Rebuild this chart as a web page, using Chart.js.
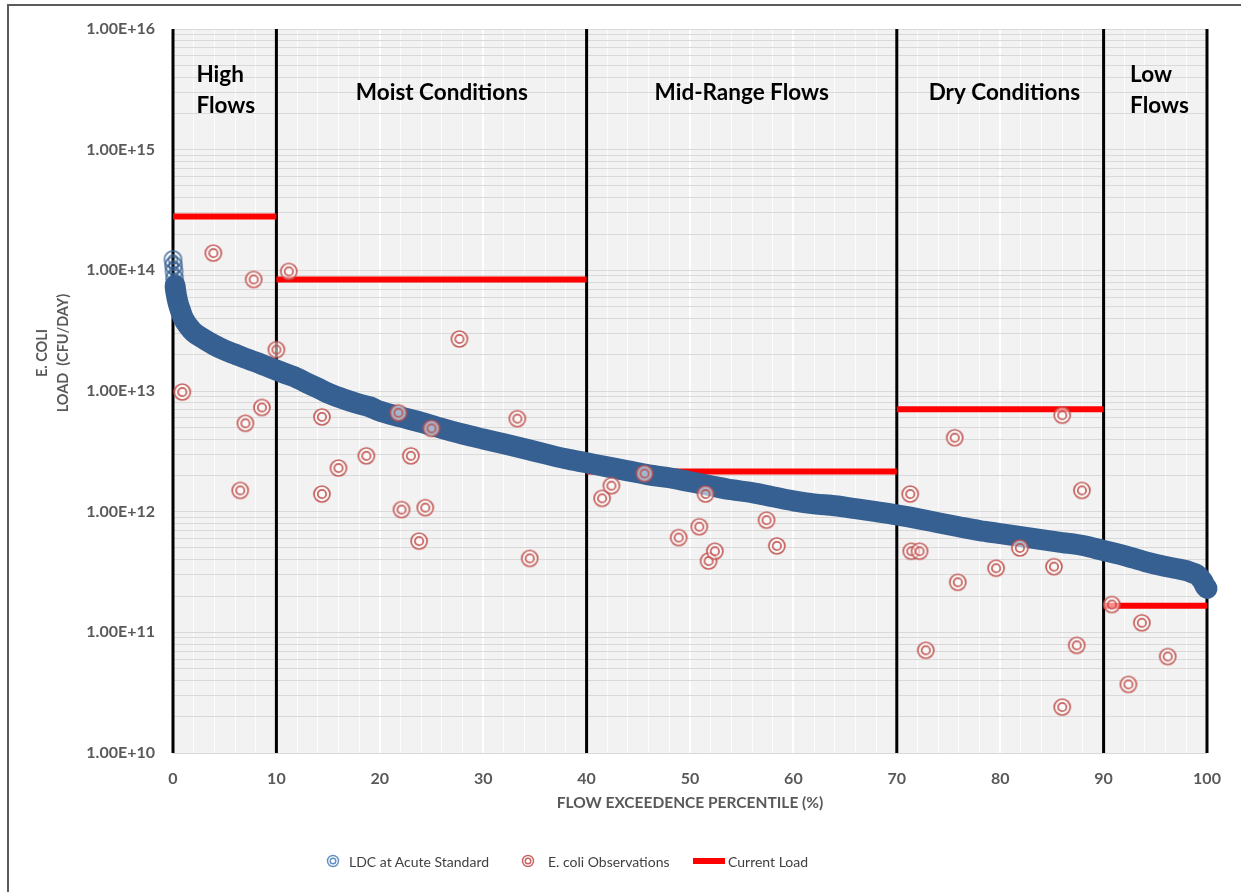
<!DOCTYPE html>
<html>
<head>
<meta charset="utf-8">
<title>E. coli Load Duration Curve</title>
<script src="https://cdn.jsdelivr.net/npm/chart.js@4.4.1/dist/chart.umd.min.js"></script>
<style>
  html, body { margin: 0; padding: 0; background: #ffffff; overflow: hidden; }
  #frame { position: absolute; left: 7px; top: 4px; width: 1400px; height: 1000px;
           border-left: 2px solid #5b5b5b; border-top: 2px solid #5b5b5b; box-sizing: border-box; }
  #wrap { position: absolute; left: 0; top: 0; width: 1241px; height: 892px; }
  #legend { position: absolute; left: 0; top: 852px; width: 1241px; height: 20px;
            font: 14px Lato, sans-serif; color: #404040; }
  .item { position: absolute; top: 0; height: 18px; display: flex; align-items: center; white-space: nowrap; }
  .item canvas { display: block; }
</style>
</head>
<body>
<div id="frame"></div>
<div id="wrap"><canvas id="chart"></canvas></div>
<div id="legend"></div>
<script>
// ---- Load duration curve at the acute standard (flow exceedence %, CFU/day) ----
const ldcPct = [0, 0.05, 0.1, 0.15, 0.2, 0.3, 0.5, 0.75, 1, 1.5, 2, 3, 4, 5, 6, 7, 8, 9, 10,
  11, 12, 13, 14, 15, 16, 17, 18, 19, 20, 22, 24, 26, 28, 30, 32, 34, 36, 38, 40,
  42, 44, 46, 48, 50, 52, 54, 56, 58, 60, 62, 64, 66, 68, 70, 72, 74, 76, 78, 80,
  82, 84, 86, 88, 90, 92, 94, 96, 97, 98, 98.5, 99, 99.3, 99.6, 99.8, 100];
const ldcLoad = [1.23e14, 1.10e14, 9.8e13, 8.6e13, 7.5e13, 6.45e13, 5.34e13, 4.58e13, 4.01e13, 3.44e13,
  3.07e13, 2.69e13, 2.40e13, 2.18e13, 2.02e13, 1.87e13, 1.74e13, 1.61e13, 1.49e13,
  1.38e13, 1.28e13, 1.16e13, 1.06e13, 9.6e12, 8.9e12, 8.3e12, 7.8e12, 7.4e12, 6.8e12,
  6.1e12, 5.5e12, 4.9e12, 4.4e12, 4.0e12, 3.65e12, 3.32e12, 3.01e12, 2.74e12, 2.54e12,
  2.35e12, 2.18e12, 2.02e12, 1.91e12, 1.77e12, 1.64e12, 1.52e12, 1.44e12, 1.33e12, 1.23e12,
  1.16e12, 1.12e12, 1.06e12, 1.00e12, 9.4e11, 8.75e11, 8.1e11, 7.5e11, 6.97e11, 6.58e11,
  6.2e11, 5.87e11, 5.55e11, 5.24e11, 4.76e11, 4.33e11, 3.86e11, 3.51e11, 3.38e11, 3.25e11,
  3.13e11, 3.01e11, 2.85e11, 2.64e11, 2.44e11, 2.31e11];

// ---- E. coli observations ----
const obsPct = [0.9, 3.9, 6.5, 7.0, 7.8, 8.6, 10.0, 11.2, 14.4, 14.4, 16.0, 18.7, 21.8, 22.1,
  23.0, 23.8, 24.4, 25.0, 27.7, 33.3, 34.5, 41.5, 42.4, 45.6, 48.9, 50.9, 51.5, 51.8,
  52.4, 57.4, 58.4, 71.3, 71.4, 72.2, 72.8, 75.6, 75.9, 79.6, 81.9, 85.2, 86.0, 86.0,
  87.4, 87.9, 90.8, 92.4, 93.7, 96.2];
const obsLoad = [9.8e12, 1.39e14, 1.5e12, 5.4e12, 8.4e13, 7.3e12, 2.2e13, 9.8e13, 6.1e12, 1.4e12,
  2.3e12, 2.9e12, 6.6e12, 1.04e12, 2.9e12, 5.7e11, 1.08e12, 4.9e12, 2.7e13, 5.9e12, 4.1e11,
  1.29e12, 1.64e12, 2.07e12, 6.1e11, 7.5e11, 1.4e12, 3.9e11, 4.7e11, 8.5e11, 5.2e11,
  1.4e12, 4.7e11, 4.7e11, 7.1e10, 4.1e12, 2.6e11, 3.4e11, 5.0e11, 3.5e11, 6.3e12, 2.4e10,
  7.8e10, 1.5e12, 1.7e11, 3.7e10, 1.2e11, 6.3e10];

// ---- Flow zones and the current load in each zone ----
const zoneBounds = [0, 10, 40, 70, 90, 100];
const currentLoad = [2.8e14, 8.4e13, 2.15e12, 7.05e12, 1.66e11];
const zoneNames = [['High', 'Flows'], ['Moist Conditions'], ['Mid-Range Flows'], ['Dry Conditions'], ['Low', 'Flows']];
const zoneNameAt = [5.1, 26.0, 55.0, 80.4, 95.4];

// ---- Axis ticks ----
const yDecades = [1e10, 1e11, 1e12, 1e13, 1e14, 1e15, 1e16];
const yTickLabels = ['1.00E+10', '1.00E+11', '1.00E+12', '1.00E+13', '1.00E+14', '1.00E+15', '1.00E+16'];
const xTickLabels = ['0', '10', '20', '30', '40', '50', '60', '70', '80', '90', '100'];

const BLUE = '#376092';
const RED_RING = 'rgba(192,80,77,0.9)';

// Double-ring marker drawn once on a small canvas and used as a point style.
function ringMarker(color, rOuter, rInner, lw, fill) {
  const size = Math.ceil(2 * (rOuter + lw)) + 2;
  const c = document.createElement('canvas');
  c.width = size; c.height = size;
  const g = c.getContext('2d');
  const m = size / 2;
  if (fill) { g.fillStyle = fill; g.beginPath(); g.arc(m, m, rOuter, 0, Math.PI * 2); g.fill(); }
  g.strokeStyle = color; g.lineWidth = lw;
  g.beginPath(); g.arc(m, m, rOuter, 0, Math.PI * 2); g.stroke();
  g.beginPath(); g.arc(m, m, rInner, 0, Math.PI * 2); g.stroke();
  return c;
}

function build() {
  const ldcRing = ringMarker('rgba(55,96,146,0.75)', 8.5, 4.5, 1.8, null);
  const obsRing = ringMarker(RED_RING, 8, 4.2, 1.7, 'rgba(255,255,255,0.55)');

  const ldcData = ldcPct.map((p, i) => ({ x: p, y: ldcLoad[i] }));
  const obsData = obsPct.map((p, i) => ({ x: p, y: obsLoad[i] }));
  const loadData = [];
  currentLoad.forEach((v, i) => {
    loadData.push({ x: zoneBounds[i], y: v }, { x: zoneBounds[i + 1], y: v }, { x: zoneBounds[i + 1], y: null });
  });
  const sepData = [];
  zoneBounds.forEach(b => {
    sepData.push({ x: b, y: yDecades[0] }, { x: b, y: yDecades[yDecades.length - 1] }, { x: b, y: null });
  });

  const tickFont = { family: 'Lato', size: 16, weight: 'bold' };

  // Plot background, zone names and the two-line y-axis title.
  const annotate = {
    id: 'annotate',
    beforeDraw(chart) {
      const { ctx, chartArea: a } = chart;
      ctx.save();
      ctx.fillStyle = '#f2f2f2';
      ctx.fillRect(a.left, a.top, a.right - a.left, a.bottom - a.top);
      ctx.restore();
    },
    afterDraw(chart) {
      const { ctx, chartArea: a, scales: { x } } = chart;
      ctx.save();
      ctx.font = 'bold 22.5px Lato';
      ctx.fillStyle = '#000000';
      ctx.textAlign = 'left';
      ctx.textBaseline = 'alphabetic';
      zoneNames.forEach((lines, i) => {
        const cx = x.getPixelForValue(zoneNameAt[i]);
        const w = Math.max(...lines.map(t => ctx.measureText(t).width));
        const base = lines.length === 1 ? a.top + 71 : a.top + 53;
        lines.forEach((t, j) => ctx.fillText(t, cx - w / 2, base + j * 31));
      });
      ctx.font = 'bold 14.5px Lato';
      ctx.fillStyle = '#595959';
      ctx.textAlign = 'center';
      ctx.textBaseline = 'middle';
      const cy = (a.top + a.bottom) / 2 - 38;
      [['E. COLI', 131], ['LOAD  (CFU/DAY)', 110]].forEach(([t, dx]) => {
        ctx.save();
        ctx.translate(a.left - dx, cy);
        ctx.rotate(-Math.PI / 2);
        ctx.fillText(t, 0, 0);
        ctx.restore();
      });
      ctx.restore();
    }
  };

  const chart = new Chart(document.getElementById('chart'), {
    type: 'scatter',
    data: {
      datasets: [
        {
          label: 'LDC at Acute Standard',
          data: ldcData,
          showLine: true,
          borderColor: BLUE,
          backgroundColor: BLUE,
          borderWidth: 21,
          borderCapStyle: 'round',
          borderJoinStyle: 'round',
          cubicInterpolationMode: 'monotone',
          pointStyle: ldcRing,
          pointRadius: ctx => (ctx.dataIndex < 6 || ctx.dataIndex === ldcData.length - 1) ? 8 : 0,
          pointHoverRadius: 0,
          segment: { borderColor: ctx => ctx.p0DataIndex < 4 ? 'rgba(0,0,0,0)' : undefined },
          clip: false,
          order: 1
        },
        {
          label: 'E. coli Observations',
          data: obsData,
          showLine: false,
          pointStyle: obsRing,
          pointRadius: 8,
          pointHoverRadius: 8,
          borderColor: RED_RING,
          backgroundColor: RED_RING,
          clip: false,
          order: 0
        },
        {
          label: 'Current Load',
          data: loadData,
          showLine: true,
          spanGaps: false,
          borderColor: '#ff0000',
          backgroundColor: '#ff0000',
          borderWidth: 6,
          borderCapStyle: 'butt',
          pointRadius: 0,
          pointHoverRadius: 0,
          order: 2
        },
        {
          label: 'Flow zones',
          data: sepData,
          showLine: true,
          spanGaps: false,
          borderColor: '#000000',
          borderWidth: 3,
          borderCapStyle: 'butt',
          pointRadius: 0,
          pointHoverRadius: 0,
          clip: false,
          order: 3
        }
      ]
    },
    options: {
      responsive: true,
      maintainAspectRatio: false,
      animation: false,
      devicePixelRatio: 1,
      layout: { padding: { left: 0, top: 27, right: 34, bottom: 69 } },
      plugins: { legend: { display: false }, tooltip: { enabled: false } },
      scales: {
        x: {
          type: 'linear',
          position: 'bottom',
          min: 0,
          max: 100,
          z: -1,
          afterFit: s => { s.height = 70; },
          border: { display: false },
          grid: {
            drawTicks: false,
            color: c => (c.tick && c.tick.value % 10 === 0) ? '#ffffff' : 'rgba(255,255,255,0.8)',
            lineWidth: c => (c.tick && c.tick.value % 10 === 0) ? 2 : 1
          },
          ticks: {
            stepSize: 2,
            autoSkip: false,
            maxRotation: 0,
            padding: 16,
            color: '#595959',
            font: tickFont,
            callback: v => (v % 10 === 0 ? xTickLabels[v / 10] : '')
          },
          title: {
            display: true,
            text: 'FLOW EXCEEDENCE PERCENTILE (%)',
            color: '#595959',
            font: { family: 'Lato', size: 15.5, weight: 'bold' },
            padding: { top: 4, bottom: 11 }
          }
        },
        y: {
          type: 'logarithmic',
          min: yDecades[0],
          max: yDecades[yDecades.length - 1],
          z: -2,
          afterFit: s => { s.width = 173; },
          afterBuildTicks: s => {
            const t = [];
            for (let i = 0; i < yDecades.length - 1; i++) {
              for (let k = 1; k <= 9; k++) t.push({ value: k * yDecades[i] });
            }
            t.push({ value: yDecades[yDecades.length - 1] });
            s.ticks = t;
          },
          border: { display: false },
          grid: { drawTicks: false, color: '#d9d9d9', lineWidth: 1 },
          ticks: {
            autoSkip: false,
            padding: 18,
            color: '#595959',
            font: tickFont,
            callback: v => {
              const i = yDecades.findIndex(d => Math.abs(v / d - 1) < 1e-6);
              return i >= 0 ? yTickLabels[i] : '';
            }
          }
        }
      }
    },
    plugins: [annotate]
  });

  // Legend built from the first three datasets.
  const legend = document.getElementById('legend');
  const icons = [ringMarker('rgba(79,129,189,0.9)', 5.5, 2.8, 1.4, null),
                 ringMarker('rgba(192,80,77,0.9)', 5.5, 2.8, 1.4, 'rgba(255,255,255,0.5)'),
                 null];
  const lefts = [325, 520, 693];
  const gaps = [8, 12, 3];
  chart.data.datasets.slice(0, 3).forEach((ds, i) => {
    const item = document.createElement('div');
    item.className = 'item';
    item.style.left = lefts[i] + 'px';
    let icon;
    if (icons[i]) {
      icon = icons[i];
    } else {
      icon = document.createElement('canvas');
      icon.width = 32; icon.height = 6;
      const g = icon.getContext('2d');
      g.fillStyle = ds.borderColor;
      g.fillRect(0, 0, 32, 6);
    }
    icon.style.marginRight = gaps[i] + 'px';
    const label = document.createElement('span');
    label.textContent = ds.label;
    item.appendChild(icon);
    item.appendChild(label);
    legend.appendChild(item);
  });
}

const fontLoads = document.fonts
  ? Promise.all(['bold 16px Lato', 'bold 22.5px Lato', '14px Lato'].map(f => document.fonts.load(f))).catch(() => {})
  : Promise.resolve();
fontLoads.then(build);
</script>
</body>
</html>
